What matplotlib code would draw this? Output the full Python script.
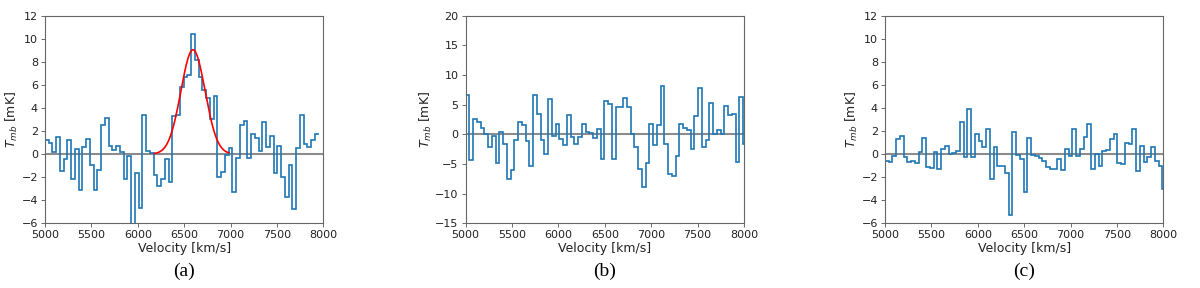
import numpy as np
import matplotlib.pyplot as plt

# channel grid (km/s)
v_start = 5000.0
chan_width = 40.4

# spectra in mK, one value per channel
spec_a = [1.18, 0.92, 0.14, 1.45, -1.5, -0.46, 1.18, -2.14, 0.46, -3.15,
          0.6, 1.3, -0.92, -3.12, -1.4, 2.5, 3.15, 0.69, 0.35, 0.72,
          0.15, -2.14, -0.15, -7.0, -1.6, -4.7, 3.4, 0.25, 0.1, -1.85,
          -2.8, -2.2, -0.4, -2.4, 3.3, 3.4, 5.8, 6.65, 6.85, 10.4,
          8.15, 6.7, 5.55, 4.9, 3.0, 5.05, -1.97, -1.53, -0.1, 0.55,
          -3.27, -0.3, 2.5, 2.9, -0.3, 1.7, 1.4, 0.3, 2.75, 0.65,
          1.6, -1.6, 0.7, -1.95, -3.7, -0.92, -4.77, 0.55, 3.4, 0.84,
          0.6, 1.2, 1.73]

spec_b = [6.6, -4.3, 2.6, 2.0, 1.1, 0.1, -2.2, -0.2, -4.9, 0.45,
          -1.6, -7.5, -6.1, -0.9, 2.0, 1.5, -1.2, -5.4, 6.6, 3.5,
          -1.0, -3.4, 6.0, -0.2, 1.7, -0.8, -1.8, 3.2, -0.5, -1.6,
          -0.45, 1.7, 0.4, 0.2, -0.7, 0.95, -4.2, 5.6, 5.1, -4.2,
          4.6, 4.55, 6.1, 4.6, 0.0, -2.1, -5.9, -8.8, -4.8, 1.8,
          -1.8, 1.6, 8.2, -1.6, -6.7, -7.0, -3.6, 1.8, 1.1, 0.8,
          -2.5, 3.1, 7.75, -2.1, -1.0, 5.2, 0.1, 0.8, 0.1, 4.8,
          3.2, 3.5, -4.7, 6.35, -1.6]

spec_c = [-0.58, -0.72, -0.17, 1.27, 1.6, -0.29, -0.66, -0.6, -0.8, 0.2,
          1.42, -1.1, -1.18, 0.15, -1.33, 0.43, 0.7, -0.03, 0.06, 0.26,
          2.8, -0.23, 3.87, -0.23, 1.7, 1.1, 0.58, 2.17, -2.2, 0.6,
          -1.05, -1.05, -1.68, -5.25, 1.9, -0.05, -0.46, -3.27, 1.4, -0.1,
          -0.2, -0.3, -0.6, -1.1, -1.25, -1.33, -0.43, -1.4, 0.45, -0.15,
          2.14, -0.17, 0.4, 1.5, 2.65, -1.25, 0.0, -1.05, 0.26, 0.35,
          1.35, 1.73, -0.75, -0.87, 0.92, 0.84, 2.14, -1.5, 0.72, -0.72,
          -0.23, 0.6, -0.6, -1.0, -3.0]

# gaussian fit to panel (a)
fit_amp = 9.05
fit_v0 = 6595.0
fit_sigma = 130.0
fit_range = (6180, 6980)

panels = [("(a)", spec_a, (-6, 12), np.arange(-6, 13, 2), True),
          ("(b)", spec_b, (-15, 20), np.arange(-15, 21, 5), False),
          ("(c)", spec_c, (-6, 12), np.arange(-6, 13, 2), False)]
lefts = [0.0375, 0.388, 0.7375]

fig = plt.figure(figsize=(12, 2.88), dpi=100)

for (tag, spec, ylim, yticks, show_fit), left in zip(panels, lefts):
    ax = fig.add_axes([left, 0.2247, 0.2320, 0.7208])
    spec = np.array(spec)
    edges = v_start + chan_width * np.arange(len(spec) + 1)
    ax.axhline(0, color="#8c8c8c", lw=1.5, zorder=1)
    ax.stairs(spec, edges, baseline=None, color="#1f77b4", lw=1.2, zorder=2)
    if show_fit:
        v = np.linspace(fit_range[0], fit_range[1], 300)
        g = fit_amp * np.exp(-(v - fit_v0) ** 2 / (2 * fit_sigma ** 2))
        ax.plot(v, g, color="red", lw=1.2, zorder=3)
    ax.set_xlim(5000, 8000)
    ax.set_ylim(*ylim)
    ax.set_xticks(np.arange(5000, 8001, 500))
    ax.set_yticks(yticks)
    ax.tick_params(labelsize=8, length=3, width=0.6, color="#555555",
                   labelcolor="#222222", pad=2)
    for s in ax.spines.values():
        s.set_color("#666666")
        s.set_linewidth(0.8)
    ax.set_xlabel("Velocity [km/s]", fontsize=9, color="#222222", labelpad=1)
    ax.set_ylabel("$T_{mb}$ [mK]", fontsize=9, color="#222222", labelpad=1)
    fig.text(left + 0.116, 0.058, tag, ha="center", va="center",
             family="Liberation Serif", fontsize=14)

fig.savefig("out.png", dpi=100)
